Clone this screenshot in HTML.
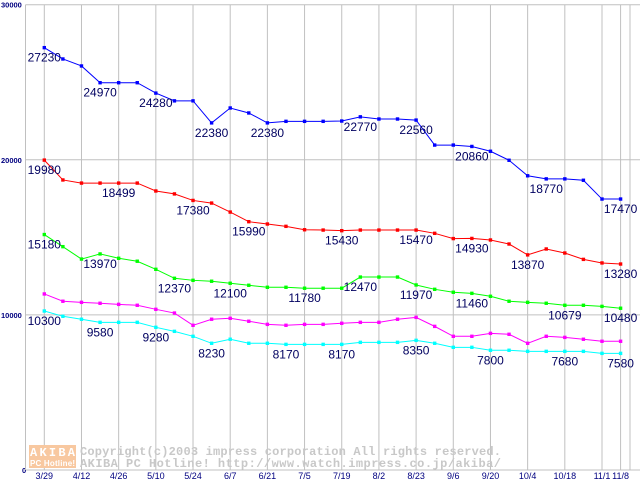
<!DOCTYPE html>
<html><head><meta charset="utf-8"><style>
html,body{margin:0;padding:0;background:#fff;}
svg{display:block;}
</style></head><body>
<svg id="chart" width="640" height="480" xmlns="http://www.w3.org/2000/svg" font-family="Liberation Sans, sans-serif"></svg>
<script>
const dates = ["3/29","","4/12","","4/26","","5/10","","5/24","","6/7","","6/21","","7/5","","7/19","","8/2","","8/23","","9/6","","9/20","","10/4","","10/18","","11/1","11/8"];
const yTicks = [0,10000,20000,30000];
const blue = [27230,26500,26050,24970,24970,24970,24300,23800,23800,22380,23340,23020,22380,22480,22480,22480,22500,22770,22630,22630,22560,20950,20950,20860,20550,19970,18970,18770,18770,18680,17470,17470];
const red = [19980,18700,18499,18499,18499,18499,17990,17800,17380,17210,16630,16010,15860,15710,15490,15470,15430,15470,15470,15470,15470,15260,14920,14930,14830,14570,13870,14250,13990,13580,13350,13280];
const green = [15180,14400,13600,13930,13650,13460,12940,12360,12230,12170,12040,11910,11780,11780,11720,11720,11720,12440,12440,12440,11930,11650,11460,11390,11200,10880,10810,10750,10620,10620,10550,10430];
const magenta = [11350,10880,10810,10750,10680,10620,10360,10120,9330,9720,9780,9590,9390,9330,9390,9390,9460,9520,9520,9720,9840,9260,8620,8620,8810,8750,8170,8620,8550,8430,8300,8300];
const cyan = [10250,9910,9720,9520,9520,9520,9200,8940,8620,8170,8430,8170,8170,8100,8100,8100,8100,8230,8230,8230,8360,8170,7910,7910,7720,7720,7650,7650,7650,7650,7520,7520];
const blueLabelIdx = [0,3,6,9,12,17,20,23,27,31];
const blueLabels = ["27230","24970","24280","22380","22380","22770","22560","20860","18770","17470"];
const redLabelIdx = [0,4,8,11,16,20,23,26,31];
const redLabels = ["19980","18499","17380","15990","15430","15470","14930","13870","13280"];
const greenLabelIdx = [0,3,7,10,14,17,20,23,28,31];
const greenLabels = ["15180","13970","12370","12100","11780","12470","11970","11460","10679","10480"];
const cyanLabelIdx = [0,3,6,9,13,16,20,24,28,31];
const cyanLabels = ["10300","9580","9280","8230","8170","8170","8350","7800","7680","7580"];

const NS="http://www.w3.org/2000/svg";
const svg=document.getElementById('chart');
const X0=44.3, DX=18.59, Y0=470, YMAX=30000, YTOP=4.7;
const xs=i=>X0+i*DX;
const ys=v=>Y0-(v/YMAX)*(Y0-YTOP);
function mk(tag,attrs){const e=document.createElementNS(NS,tag);for(const k in attrs)e.setAttribute(k,attrs[k]);svg.appendChild(e);return e;}

// grid
dates.forEach((d,i)=>{
  if(d==="")return;
  const g=mk('line',{x1:xs(i),x2:xs(i),y1:YTOP,y2:Y0,stroke:'#c0c0c0','stroke-width':1});
  
  
  const t=mk('text',{x:xs(i),y:479,'text-anchor':'middle','font-size':9,fill:'#000080'});
  t.textContent=d;
  
  
});
const rb=mk('line',{x1:630,x2:630,y1:YTOP,y2:Y0,stroke:'#c0c0c0'});


yTicks.forEach(v=>{
  const g=mk('line',{x1:25.5,x2:640,y1:ys(v),y2:ys(v),stroke:'#c0c0c0','stroke-width':1});
  
  
  const t=mk('text',{x:v===0?22:1,y:ys(v)+(v===YMAX?3:3),'font-size':7.5,'font-weight':'bold',fill:'#000080'});
  t.textContent=String(v);
  
  
});
const ax=mk('line',{x1:25.5,x2:25.5,y1:YTOP,y2:Y0,stroke:'#c0c0c0'});



// watermark
const wm=mk('rect',{x:29,y:445,width:47,height:23,fill:'#f8c8a0'});


const l1=mk('text',{x:30,y:456,'font-size':12,'font-weight':'bold',fill:'#fff','font-family':'Liberation Mono, monospace',textLength:45});
l1.textContent='AKIBA';


const l2=mk('text',{x:30,y:466,'font-size':8,'font-weight':'bold',fill:'#fff',textLength:45});
l2.textContent='PC Hotline!';


const c1=mk('text',{x:80,y:455,'font-size':12,'font-weight':'bold',fill:'#c8c8c8','font-family':'Liberation Mono, monospace',textLength:421});
c1.textContent='Copyright(c)2003 impress corporation All rights reserved.';


const c2=mk('text',{x:80,y:467,'font-size':12,'font-weight':'bold',fill:'#c8c8c8','font-family':'Liberation Mono, monospace',textLength:421});
c2.textContent='AKIBA PC Hotline!  http://www.watch.impress.co.jp/akiba/';



function series(vals,color,name,lidx,ltxt){
  const p=mk('polyline',{points:vals.map((v,i)=>xs(i)+','+ys(v)).join(' '),fill:'none',stroke:color,'stroke-width':1});
  
  
  vals.forEach((v,i)=>{
    const r=mk('rect',{x:xs(i)-1.7,y:ys(v)-1.7,width:3.4,height:3.4,fill:color});
    
    
  });
  lidx.forEach((idx,k)=>{
    const t=mk('text',{x:xs(idx),y:ys(vals[idx])+14,'text-anchor':'middle','font-size':12,fill:'#000060'});
    t.textContent=ltxt[k];
    
    
  });
}
series(blue,'#0000ff','blue-series',blueLabelIdx,blueLabels);
series(red,'#ff0000','red-series',redLabelIdx,redLabels);
series(green,'#00ff00','green-series',greenLabelIdx,greenLabels);
series(magenta,'#ff00ff','magenta-series',[],[]);
series(cyan,'#00ffff','cyan-series',cyanLabelIdx,cyanLabels);
</script>
</body></html>
